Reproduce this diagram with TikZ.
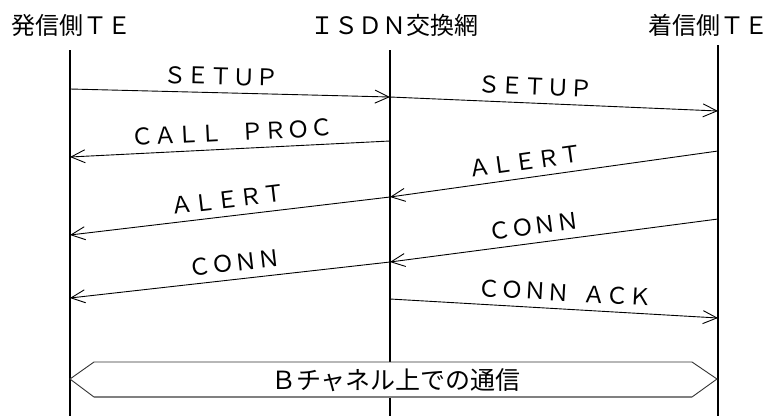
\documentclass[tikz,border=0pt]{standalone}
\usepackage{fontspec}
\newfontfamily\jp{Noto Sans CJK JP}
\usetikzlibrary{arrows.meta}
\begin{document}
\begin{tikzpicture}[x=1pt,y=-1pt,
  hdr/.style={font=\jp\fontsize{24}{28}\selectfont, inner sep=0pt},
  life/.style={line width=1.6pt},
  msg/.style={line width=0.9pt, -{Straight Barb[length=14pt,width=13pt,line width=0.9pt]}},
  mlbl/.style={font=\jp\fontsize{23}{26}\selectfont, sloped, anchor=base, inner sep=0pt, yshift=8pt}
]
\useasboundingbox (0,0) rectangle (774,416);
% headers
\node[hdr, anchor=west] (hA) at (11,25) {発信側ＴＥ};
\node[hdr] (hB) at (394,25) {ＩＳＤＮ交換網};
\node[hdr] (hC) at (708,25) {着信側ＴＥ};
% lifelines
\coordinate (A0) at (70,50);  \coordinate (A1) at (70,416);
\coordinate (B0) at (390,50); \coordinate (B1) at (390,416);
\coordinate (C0) at (718,45); \coordinate (C1) at (718,416);
\draw[life] (A0) -- (A1);
\draw[life] (B0) -- (B1);
\draw[life] (C0) -- (C1);
% message end points
\coordinate (m1s) at (70,89);   \coordinate (m1e) at (390,97);
\coordinate (m2s) at (390,97);  \coordinate (m2e) at (718,111);
\coordinate (m3s) at (390,141); \coordinate (m3e) at (70,157);
\coordinate (m4s) at (718,151); \coordinate (m4e) at (390,197);
\coordinate (m5s) at (390,197); \coordinate (m5e) at (70,235);
\coordinate (m6s) at (718,219); \coordinate (m6e) at (390,262);
\coordinate (m7s) at (390,262); \coordinate (m7e) at (70,298);
\coordinate (m8s) at (390,299); \coordinate (m8e) at (718,318);
% messages
\draw[msg] (m1s) -- node[mlbl, pos=0.47] {ＳＥＴＵＰ} (m1e);
\draw[msg] (m2s) -- node[mlbl, pos=0.44] {ＳＥＴＵＰ} (m2e);
\draw[msg] (m3s) -- node[mlbl, pos=0.49] {ＣＡＬＬ\hspace{0.78em}ＰＲＯＣ} (m3e);
\draw[msg] (m4s) -- node[mlbl, pos=0.58] {ＡＬＥＲＴ} (m4e);
\draw[msg] (m5s) -- node[mlbl, pos=0.50] {ＡＬＥＲＴ} (m5e);
\draw[msg] (m6s) -- node[mlbl, pos=0.555] {ＣＯＮＮ} (m6e);
\draw[msg] (m7s) -- node[mlbl, pos=0.48] {ＣＯＮＮ} (m7e);
\draw[msg] (m8s) -- node[mlbl, pos=0.53] {ＣＯＮＮ\hspace{0.55em}ＡＣＫ} (m8e);
% B-channel box
\coordinate (bL) at (70,379);  \coordinate (bTL) at (94,362); \coordinate (bTR) at (692,362);
\coordinate (bR) at (717,379); \coordinate (bBR) at (692,397); \coordinate (bBL) at (94,397);
\draw[fill=white, draw=black!80, line width=0.9pt] (bL) -- (bTL) -- (bTR) -- (bR) -- (bBR) -- (bBL) -- cycle;
\draw[black!50, line width=1.5pt] (bBL) -- (bBR);
\node[font=\jp\fontsize{25}{28}\selectfont, inner sep=0pt] (bt) at (396,380) {Ｂチャネル上での通信};
\end{tikzpicture}
\end{document}
